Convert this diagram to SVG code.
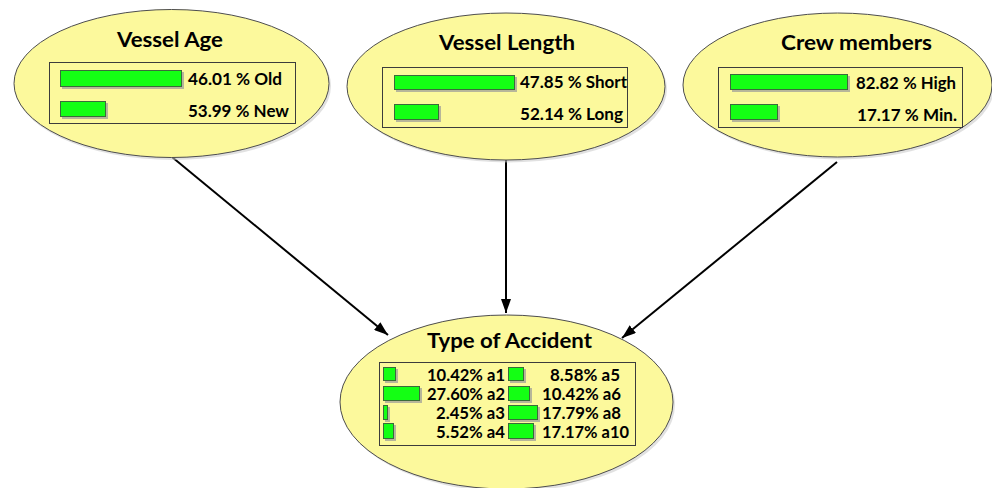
<svg xmlns="http://www.w3.org/2000/svg" width="992" height="488" viewBox="0 0 992 488">
  <style>
    .node { fill: #fcf99c; stroke: #4d4d4d; stroke-width: 1; }
    .shadow { fill: #c8c8c8; opacity: 0.55; }
    .panel { fill: none; stroke: #3c3c3c; stroke-width: 1; }
    .bar { fill: #14ff14; stroke: #3a6b3a; stroke-width: 1; }
    .barsh { fill: #9a9a9a; opacity: 0.7; }
    .title { font-family: Lato, "Open Sans", "Liberation Sans", sans-serif; font-weight: bold; font-size: 21px; fill: #000; }
    .val { font-family: Lato, "Open Sans", "Liberation Sans", sans-serif; font-weight: bold; font-size: 17px; fill: #000; }
    .edge { stroke: #000; stroke-width: 2; fill: none; marker-end: url(#arrow); }
  </style>
  <defs>
    <marker id="arrow" viewBox="0 0 14 10" refX="14" refY="5" markerWidth="14" markerHeight="10" markerUnits="userSpaceOnUse" orient="auto">
      <path d="M0,0 L14,5 L0,10 Z" fill="#000"/>
    </marker>
  </defs>

  <rect width="992" height="488" fill="#fff"/>

  <!-- connectors -->
  <g id="edges">
    <line class="edge" x1="172" y1="157" x2="388" y2="335"/>
    <line class="edge" x1="506" y1="160" x2="506" y2="313"/>
    <line class="edge" x1="837" y1="162" x2="622" y2="338"/>
  </g>

  <!-- Vessel Age -->
  <g id="vessel-age">
    <ellipse class="shadow" cx="173" cy="86" rx="158" ry="74"/>
    <ellipse class="node" cx="171.5" cy="83.5" rx="157.5" ry="74"/>
    <text class="title" x="170" y="47" text-anchor="middle" textLength="106" lengthAdjust="spacingAndGlyphs">Vessel Age</text>
    <rect class="panel" x="49.5" y="62.5" width="246" height="61"/>
    <rect class="barsh" x="62" y="72" width="122" height="17"/>
    <rect class="bar" x="60.5" y="70.5" width="121" height="16"/>
    <rect class="barsh" x="62" y="103" width="46" height="16"/>
    <rect class="bar" x="60.5" y="101.5" width="45" height="15"/>
    <text class="val" x="188" y="85" textLength="94" lengthAdjust="spacingAndGlyphs">46.01 % Old</text>
    <text class="val" x="188" y="117" textLength="101" lengthAdjust="spacingAndGlyphs">53.99 % New</text>
  </g>

  <!-- Vessel Length -->
  <g id="vessel-length">
    <ellipse class="shadow" cx="508" cy="89" rx="159" ry="73.5"/>
    <ellipse class="node" cx="506" cy="86.5" rx="159" ry="73.5"/>
    <text class="title" x="507" y="50" text-anchor="middle" textLength="136" lengthAdjust="spacingAndGlyphs">Vessel Length</text>
    <rect class="panel" x="382.5" y="67.5" width="245" height="60"/>
    <rect class="barsh" x="396" y="77" width="121" height="15"/>
    <rect class="bar" x="394.5" y="75.5" width="120" height="14"/>
    <rect class="barsh" x="396" y="106" width="45" height="16"/>
    <rect class="bar" x="394.5" y="104.5" width="44" height="15"/>
    <text class="val" x="520" y="88" textLength="107" lengthAdjust="spacingAndGlyphs">47.85 % Short</text>
    <text class="val" x="520" y="120" textLength="103" lengthAdjust="spacingAndGlyphs">52.14 % Long</text>
  </g>

  <!-- Crew members -->
  <g id="crew-members">
    <ellipse class="shadow" cx="839.5" cy="87.5" rx="154.5" ry="72"/>
    <ellipse class="node" cx="837.5" cy="85" rx="154.5" ry="72"/>
    <text class="title" x="856.5" y="50" text-anchor="middle" textLength="151" lengthAdjust="spacingAndGlyphs">Crew members</text>
    <rect class="panel" x="718.5" y="67.5" width="244" height="60"/>
    <rect class="barsh" x="732" y="76" width="118" height="16"/>
    <rect class="bar" x="730.5" y="74.5" width="117" height="15"/>
    <rect class="barsh" x="732" y="106" width="48" height="16"/>
    <rect class="bar" x="730.5" y="104.5" width="47" height="15"/>
    <text class="val" x="856" y="89" textLength="100" lengthAdjust="spacingAndGlyphs">82.82 % High</text>
    <text class="val" x="857" y="121" textLength="100" lengthAdjust="spacingAndGlyphs">17.17 % Min.</text>
  </g>

  <!-- Type of Accident -->
  <g id="type-of-accident">
    <ellipse class="shadow" cx="508.5" cy="404.5" rx="166.5" ry="87"/>
    <ellipse class="node" cx="506.5" cy="402" rx="166.5" ry="87"/>
    <text class="title" x="509.5" y="348" text-anchor="middle" textLength="165" lengthAdjust="spacingAndGlyphs">Type of Accident</text>
    <rect class="panel" x="379.5" y="362.5" width="256" height="83"/>

    <rect class="barsh" x="385" y="369" width="13" height="14"/>
    <rect class="bar" x="383.5" y="367.5" width="12" height="13"/>
    <rect class="barsh" x="385" y="388" width="37" height="15"/>
    <rect class="bar" x="383.5" y="386.5" width="36" height="14"/>
    <rect class="barsh" x="385" y="407" width="5" height="15"/>
    <rect class="bar" x="383.5" y="405.5" width="4" height="14"/>
    <rect class="barsh" x="385" y="425" width="11" height="16"/>
    <rect class="bar" x="383.5" y="423.5" width="10" height="15"/>

    <rect class="barsh" x="510" y="369" width="16" height="14"/>
    <rect class="bar" x="508.5" y="367.5" width="15" height="13"/>
    <rect class="barsh" x="510" y="388" width="22" height="15"/>
    <rect class="bar" x="508.5" y="386.5" width="21" height="14"/>
    <rect class="barsh" x="510" y="407" width="30" height="15"/>
    <rect class="bar" x="508.5" y="405.5" width="29" height="14"/>
    <rect class="barsh" x="510" y="425" width="26" height="16"/>
    <rect class="bar" x="508.5" y="423.5" width="25" height="15"/>

    <text class="val" x="427" y="381" textLength="78" lengthAdjust="spacingAndGlyphs">10.42% a1</text>
    <text class="val" x="427" y="400" textLength="78" lengthAdjust="spacingAndGlyphs">27.60% a2</text>
    <text class="val" x="436" y="419" textLength="69" lengthAdjust="spacingAndGlyphs">2.45% a3</text>
    <text class="val" x="436" y="438" textLength="69" lengthAdjust="spacingAndGlyphs">5.52% a4</text>

    <text class="val" x="550" y="381" textLength="70" lengthAdjust="spacingAndGlyphs">8.58% a5</text>
    <text class="val" x="542" y="400" textLength="79" lengthAdjust="spacingAndGlyphs">10.42% a6</text>
    <text class="val" x="542" y="419" textLength="79" lengthAdjust="spacingAndGlyphs">17.79% a8</text>
    <text class="val" x="542" y="438" textLength="87" lengthAdjust="spacingAndGlyphs">17.17% a10</text>
  </g>
</svg>
